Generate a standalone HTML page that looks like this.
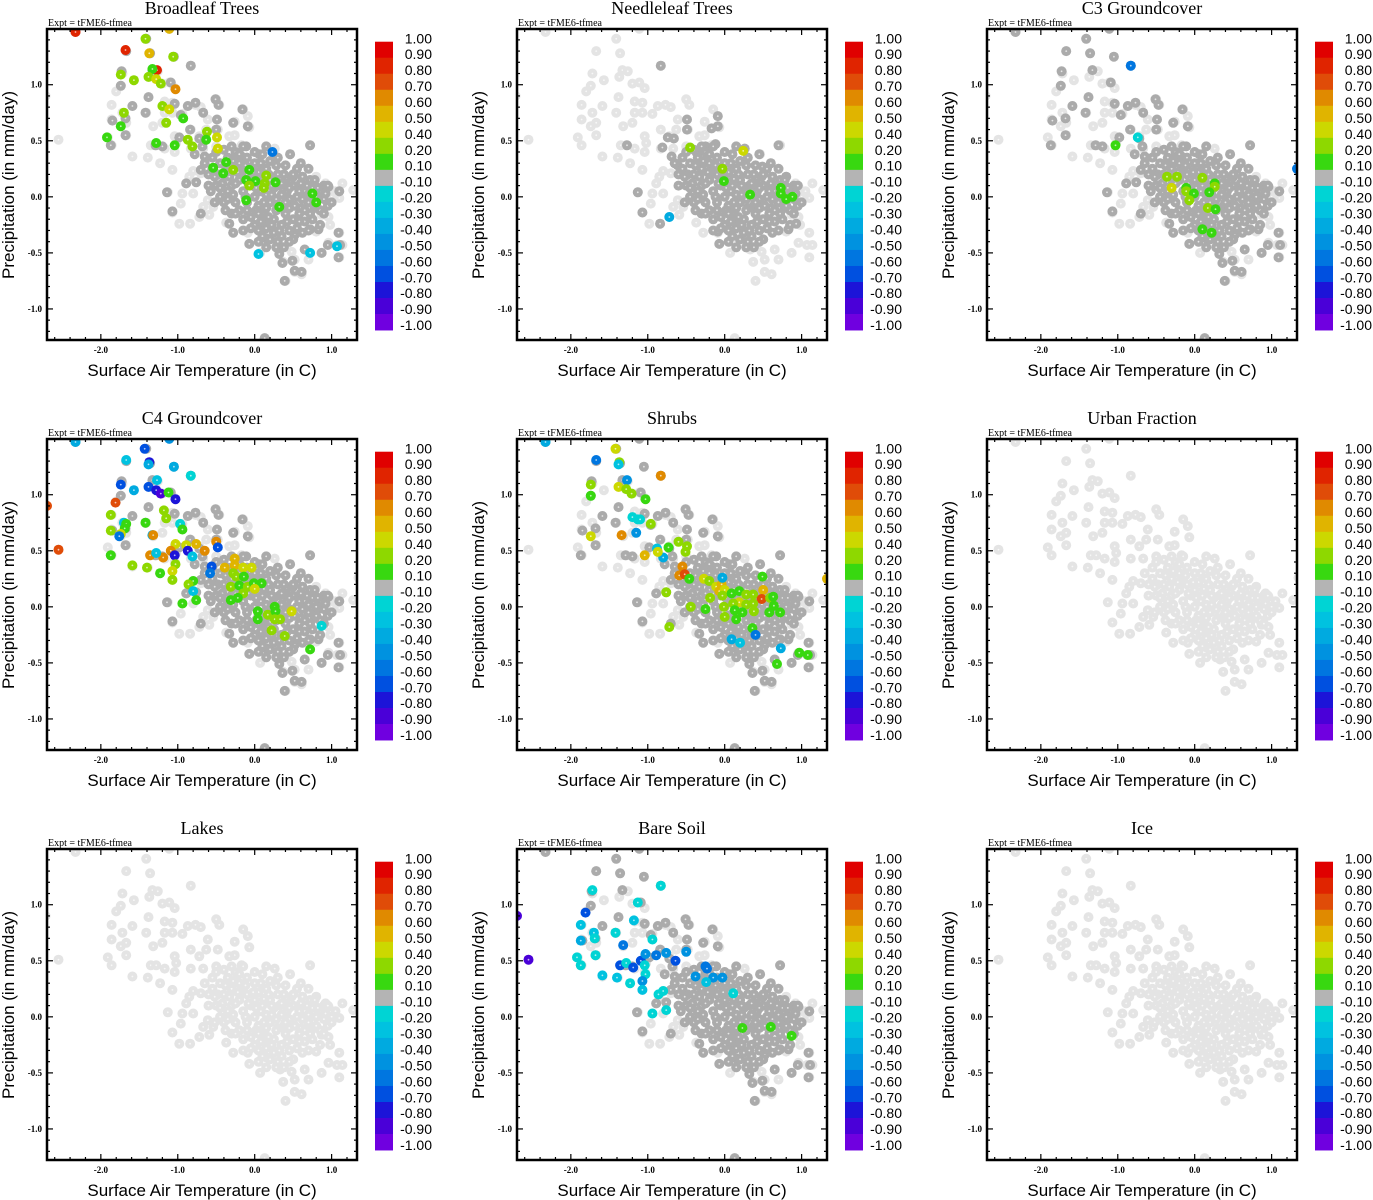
<!DOCTYPE html>
<html><head><meta charset="utf-8">
<style>
html,body{margin:0;padding:0;background:#fff;}
#root{width:1373px;height:1200px;position:relative;overflow:hidden;}
svg text{font-family:"Liberation Sans",sans-serif;}
</style></head>
<body>
<div id="root">
<svg id="fig" width="1373" height="1200" viewBox="0 0 1373 1200" xmlns="http://www.w3.org/2000/svg"></svg>
</div>
<script>
// ---- data (x = surface air temperature anomaly C, y = precipitation mm/day) ----
const panelTitles = ["Broadleaf Trees","Needleleaf Trees","C3 Groundcover","C4 Groundcover","Shrubs","Urban Fraction","Lakes","Bare Soil","Ice"];
const xTickLabels = ["-2.0","-1.0","0.0","1.0"];
const xTickValues = [-2,-1,0,1];
const yTickLabels = ["1.0","0.5","0.0","-0.5","-1.0"];
const yTickValues = [1,0.5,0,-0.5,-1];
const cbarLabels = ["1.00","0.90","0.80","0.70","0.60","0.50","0.40","0.20","0.10","-0.10","-0.20","-0.30","-0.40","-0.50","-0.60","-0.70","-0.80","-0.90","-1.00"];
const cbarBounds = [1,0.9,0.8,0.7,0.6,0.5,0.4,0.2,0.1,-0.1,-0.2,-0.3,-0.4,-0.5,-0.6,-0.7,-0.8,-0.9,-1];
const cbarColors = ["#e00000","#e02400","#e04c08","#e08a00","#e0b400","#ccd800","#8ed800","#38d810","#b4b4b4","#00d4d4","#00c2e0","#00aae0","#0092e0","#0076e0","#0050e0","#1c14d8","#4a00d8","#7000e0"];

const lightOuter = [-2.55,0.51,-2.72,0.90,-2.33,1.47,-1.11,1.50,-1.41,1.41,-1.67,1.30,-1.36,1.28,-1.72,1.10,-1.57,1.04,-0.83,1.17,-1.80,0.94,-1.74,0.99,-1.33,1.13,-1.26,1.12,-1.37,1.07,-1.20,1.01,-1.11,1.02,-1.04,0.97,-1.17,0.85,-1.07,0.84,-1.86,0.82,-1.59,0.81,-1.38,0.89,-1.86,0.69,-1.72,0.75,-1.67,0.66,-1.74,0.63,-1.41,0.75,-1.32,0.63,-1.20,0.66,-1.17,0.75,-1.07,0.75,-0.94,0.74,-0.87,0.81,-0.77,0.82,-0.70,0.80,-0.50,0.87,-0.46,0.82,-0.15,0.78,-0.09,0.72,-1.91,0.53,-1.86,0.46,-1.67,0.55,-1.59,0.36,-1.39,0.35,-1.35,0.46,-1.28,0.46,-1.17,0.43,-1.04,0.54,-1.02,0.48,-1.04,0.40,-1.23,0.30,-1.07,0.24,-0.83,0.60,-0.72,0.54,-0.63,0.60,-0.48,0.60,-0.61,0.69,-0.26,0.67,-0.07,0.62,-0.26,0.55,-0.83,0.43,-0.67,0.43,-0.50,0.45,-0.33,0.54,-0.17,0.46,0.26,0.43,0.46,0.38,0.72,0.46,0.80,0.18,0.96,0.09,1.14,0.12,1.28,0.06,1.35,0.26,-1.13,0.04,-0.94,0.03,-0.96,-0.06,-0.80,0.03,-0.85,0.18,-0.89,0.12,-0.80,0.23,-0.70,0.21,-1.07,-0.14,-0.98,-0.24,-0.84,-0.24,-0.72,-0.18,-0.67,-0.09,-0.37,-0.23,-0.28,-0.32,-0.07,-0.42,0.07,-0.50,-0.09,-0.32,0.15,-0.36,0.33,-0.47,0.37,-0.58,0.48,-0.49,0.52,-0.56,0.65,-0.47,0.70,-0.56,0.87,-0.50,0.96,-0.41,1.10,-0.32,0.98,-0.25,1.07,-0.43,1.14,-0.43,1.10,-0.54,0.40,-0.75,0.52,-0.67,0.61,-0.69,0.80,-0.31,0.87,-0.16,0.76,-0.09,0.96,-0.18,1.10,-0.01,-0.61,-0.03,-0.54,-0.09,-0.59,-0.16,0.13,-1.26,1.05,0.05,1.0,0.0,0.92,0.12];
const coreCloud = [-0.45,0.30,-0.4,0.2,-0.35,0.35,-0.3,0.25,-0.3,0.1,-0.25,0.4,-0.2,0.3,-0.2,0.15,-0.15,0.05,-0.1,0.35,-0.1,0.2,-0.05,0.1,0.0,0.3,0.0,0.15,0.0,0.0,0.05,0.22,0.05,-0.08,0.1,0.1,0.1,-0.15,0.15,0.25,0.15,0.02,0.2,-0.05,0.2,0.15,0.25,-0.2,0.25,0.08,0.3,0.2,0.3,-0.1,0.35,0.02,0.35,-0.25,0.4,0.12,0.4,-0.15,0.45,-0.02,0.5,0.1,0.5,-0.2,0.55,0.0,0.6,-0.1,0.6,0.12,0.65,0.05,0.7,-0.05,0.75,0.08,0.8,0.0,0.85,0.05,0.9,-0.02,-0.5,0.1,-0.45,0.0,-0.4,-0.05,-0.35,0.05,-0.25,-0.05,-0.2,-0.12,-0.15,-0.2,-0.1,-0.05,-0.05,-0.18,0.0,-0.25,0.05,-0.3,0.1,-0.35,0.15,-0.28,0.2,-0.38,0.25,-0.32,0.3,-0.4,0.35,-0.35,0.45,-0.3,0.5,-0.38,0.55,-0.28,0.65,-0.22,0.7,-0.3,0.75,-0.2,0.85,-0.12,-0.3,-0.15,-0.55,0.25,-0.5,0.4,-0.6,0.2,-0.65,0.3,-0.15,0.45,0.1,0.38,0.2,0.32,0.4,0.28,0.55,0.25,-0.42,0.12,-0.18,0.22,0.08,0.05,0.28,-0.02,0.42,0.05,0.62,-0.02,0.12,-0.22,0.32,0.1,-0.08,0.12,0.48,0.18,0.72,0.15,0.9,0.1,0.95,-0.08,-0.52,-0.05,0.02,-0.12,0.18,-0.18,0.38,-0.08,0.58,-0.15,0.78,-0.1,0.68,0.1,-0.28,0.02,0.22,0.02,0.45,-0.1,0.12,-0.05];
const coreCloud2 = [-0.48,0.2,-0.38,0.28,-0.33,0.18,-0.28,0.32,-0.22,0.22,-0.12,0.28,-0.02,0.22,0.08,0.3,0.18,0.2,0.28,0.28,0.38,0.2,0.5,0.2,0.62,0.18,0.78,0.15,-0.45,0.08,-0.35,-0.02,-0.25,0.12,-0.12,0.0,0.02,0.08,0.12,0.16,0.22,0.1,0.35,0.12,0.45,0.08,0.58,0.05,0.7,0.02,0.82,0.08,0.92,0.03,-0.38,-0.12,-0.25,-0.15,-0.1,-0.12,0.05,-0.15,0.15,-0.1,0.28,-0.12,0.4,-0.05,0.52,-0.08,0.65,-0.12,0.8,-0.08,0.9,-0.15,-0.15,-0.3,-0.05,-0.28,0.08,-0.22,0.22,-0.25,0.32,-0.3,0.42,-0.22,0.58,-0.22,0.72,-0.15,0.62,-0.32,0.45,-0.4,0.28,-0.45,0.15,-0.45,0.05,-0.4,0.38,-0.45,-0.55,0.35,-0.6,0.1,-0.52,0.18,-0.2,0.38,0.0,0.4,0.3,0.35,0.6,0.3,0.7,0.25,0.95,0.1,1.0,-0.05,0.85,-0.25,-0.3,0.45,-0.4,0.42,0.15,0.45];
const darkOuter = [-0.83,1.17,-1.09,1.02,-1.04,0.83,-1.38,0.89,-1.74,0.99,-1.73,1.12,-1.59,0.81,-1.68,0.70,-1.85,0.68,-1.42,0.75,-1.68,0.55,-1.87,0.46,-1.29,0.46,-1.20,0.45,-0.96,0.73,-0.87,0.81,-0.77,0.84,-0.67,0.75,-0.51,0.87,-0.47,0.82,-0.16,0.78,-0.09,0.63,-0.28,0.66,-0.49,0.69,-0.84,0.60,-0.98,0.53,-0.72,0.52,-0.50,0.60,-0.68,0.45,-0.78,0.38,-0.65,0.36,-0.70,0.24,-0.89,0.12,-0.76,0.13,-1.14,0.04,-1.07,-0.13,-0.70,-0.15,-0.57,0.05,-0.33,-0.24,-0.28,-0.32,-0.07,-0.42,0.11,-0.29,0.15,-0.37,0.32,-0.51,0.36,-0.59,0.39,-0.75,0.49,-0.57,0.52,-0.34,0.65,-0.47,0.72,-0.29,0.83,-0.29,0.87,-0.50,0.95,-0.43,1.09,-0.32,1.09,-0.54,1.11,-0.43,0.61,-0.67,0.52,-0.66,0.13,-1.26,0.75,0.09,0.80,-0.04,0.50,0.18,-0.17,0.36,0.06,0.38,0.07,0.30,-0.09,0.24,-0.28,0.33,-0.11,0.45,-2.33,1.47,-1.41,1.41,-1.67,1.30,-1.36,1.28,-1.33,1.13,-1.11,1.50,-1.05,1.25,0.72,0.46,0.46,0.38,0.96,0.09,1.1,0.05];
const needleOuter = [-1.27,0.46,-1.13,0.04,-1.07,-0.14,-0.84,-0.24,-0.81,0.44,-0.74,0.53,-0.66,0.52,-0.49,0.69,-0.49,0.60,-0.69,0.36,-0.61,0.28,-0.25,0.45,-0.12,0.47,-0.17,0.61,-0.09,0.72,-0.09,0.63,-0.36,0.39,0.70,0.46,0.45,0.38,0.49,0.27,0.80,0.18,0.93,-0.24,0.83,-0.29,-0.07,-0.42,-0.09,-0.31,0.2,-0.38,0.26,0.43,-0.83,1.17];

// colored points: x, y, correlation
const broadleafVals = [-2.33,1.47,0.85,-1.11,1.50,0.55,-1.68,1.31,0.85,-1.37,1.28,0.55,-1.42,1.41,0.3,-1.06,1.25,0.3,-1.27,1.13,0.85,-1.33,1.14,0.15,-1.74,1.09,0.3,-1.57,1.04,0.3,-1.38,1.07,0.3,-1.28,1.05,0.45,-1.22,1.01,0.3,-1.03,0.96,0.6,-1.20,0.81,0.3,-1.11,0.78,0.45,-1.70,0.75,0.3,-1.74,0.63,0.15,-1.92,0.53,0.15,-1.28,0.48,0.15,-1.15,0.66,0.3,-1.04,0.46,0.15,-0.93,0.70,0.15,-0.87,0.51,0.3,-0.81,0.45,0.3,-0.62,0.58,0.3,-0.63,0.51,0.15,-0.49,0.53,0.45,-0.48,0.43,0.45,-0.54,0.26,0.15,-0.37,0.31,0.15,-0.41,0.21,0.15,-0.28,0.24,0.3,-0.07,0.24,0.15,-0.11,0.15,0.15,0.01,0.14,0.15,-0.07,0.10,0.3,0.15,0.19,0.3,0.13,0.12,0.3,0.12,0.08,0.3,0.27,0.13,0.15,-0.11,-0.03,0.15,0.32,-0.09,0.15,0.75,0.03,0.15,0.80,-0.05,0.15,0.23,0.40,-0.6,0.05,-0.51,-0.25,0.72,-0.50,-0.25,1.07,-0.44,-0.25];
const needleleafVals = [-0.45,0.44,0.3,0.24,0.41,0.45,-0.03,0.25,0.3,-0.01,0.14,0.15,0.33,0.02,0.15,0.73,0.08,0.15,0.73,0.03,0.15,0.80,-0.02,0.15,0.88,0.00,0.15,-0.72,-0.18,-0.4];
const c3Vals = [-0.83,1.17,-0.55,-0.74,0.53,-0.2,-1.03,0.46,0.15,1.33,0.25,-0.55,-0.36,0.18,0.3,-0.23,0.18,0.3,-0.30,0.08,0.45,-0.11,0.08,0.15,-0.11,0.05,0.3,-0.01,0.03,0.15,-0.07,-0.03,0.3,0.10,0.17,0.3,0.26,0.12,0.15,0.26,0.09,0.3,0.19,0.04,0.15,0.17,-0.10,0.3,0.27,-0.11,0.15,0.10,-0.29,0.15,0.22,-0.32,0.15];
const c4Vals = [-2.33,1.47,-0.4,-1.11,1.50,-0.5,-1.43,1.41,-0.7,-1.67,1.31,-0.3,-1.37,1.29,-0.8,-1.38,1.27,-0.4,-1.27,1.13,-0.3,-1.05,1.25,-0.4,-0.83,1.17,-0.2,-1.74,1.09,-0.7,-1.57,1.04,-0.4,-1.38,1.07,-0.7,-1.28,1.04,-0.8,-1.22,1.01,-0.85,-1.12,1.02,0.15,-1.03,0.96,-0.8,-1.81,0.93,0.7,-2.70,0.90,0.75,-2.55,0.51,0.75,-1.87,0.82,0.3,-1.18,0.86,0.3,-1.15,0.79,0.3,-0.97,0.74,-0.2,-1.70,0.75,-0.3,-1.67,0.74,0.15,-1.69,0.70,0.15,-1.42,0.75,0.15,-0.94,0.69,0.15,-1.87,0.68,0.3,-1.74,0.65,0.4,-1.76,0.63,-0.6,-1.33,0.64,-0.4,-1.32,0.64,0.65,-1.03,0.56,0.45,-0.89,0.55,0.45,-0.76,0.56,0.5,-1.09,0.50,0.65,-0.87,0.50,-0.8,-0.65,0.50,0.65,-0.50,0.58,0.65,-0.48,0.53,-0.7,-1.87,0.46,0.15,-1.36,0.46,0.65,-1.19,0.44,0.65,-1.28,0.48,-0.3,-1.04,0.46,-0.8,-0.81,0.45,-0.3,-1.59,0.37,0.3,-1.40,0.35,0.3,-1.23,0.30,0.15,-1.03,0.38,0.3,-1.07,0.32,0.4,-1.07,0.24,0.3,-0.56,0.36,-0.7,-0.58,0.30,-0.6,-0.39,0.35,0.5,-0.26,0.43,0.55,-0.26,0.37,0.5,-0.15,0.35,0.45,-0.04,0.35,0.4,-0.28,0.30,0.3,-0.24,0.27,0.3,-0.14,0.27,0.15,-0.80,0.23,0.15,-0.86,0.20,0.3,-0.80,0.14,-0.3,-0.76,0.06,0.15,-0.94,0.03,0.15,-0.31,0.18,0.3,-0.20,0.19,0.15,-0.09,0.18,0.3,-0.01,0.21,0.15,0.09,0.21,0.15,0.00,0.16,0.4,-0.15,0.12,0.3,-0.22,0.08,0.15,-0.31,0.06,0.15,0.04,-0.04,0.15,0.04,-0.11,0.15,0.17,-0.07,0.3,0.26,0.00,0.15,0.27,-0.04,0.15,0.26,-0.11,0.3,0.33,-0.11,0.3,0.48,-0.04,0.45,0.22,-0.21,0.3,0.39,-0.26,0.3,0.87,-0.17,-0.2,0.72,-0.38,0.15];
const shrubsVals = [-2.33,1.47,-0.4,-1.42,1.41,0.45,-1.67,1.31,-0.55,-1.37,1.29,0.3,-1.38,1.27,-0.3,-1.27,1.13,-0.5,-0.83,1.17,0.65,-1.74,1.09,0.3,-1.38,1.07,0.45,-1.28,1.05,0.3,-1.21,1.01,0.3,-1.03,0.96,0.15,-1.74,0.99,0.15,-1.20,0.80,-0.2,-1.13,0.78,-0.2,-1.10,0.78,-0.2,-0.96,0.74,0.3,-1.74,0.63,0.45,-1.34,0.64,0.6,-1.15,0.66,-0.5,-0.88,0.52,-0.3,-0.73,0.53,0.15,-0.60,0.58,0.3,-0.49,0.54,0.3,-0.51,0.49,0.3,-0.80,0.44,-0.4,-1.04,0.46,0.5,-0.87,0.49,0.45,-0.55,0.36,0.65,-0.59,0.28,0.6,-0.52,0.29,0.7,-0.46,0.25,0.15,-0.76,0.13,0.3,-0.72,-0.18,0.3,-0.44,0.00,0.3,-0.25,-0.02,0.15,-0.27,0.25,0.45,-0.20,0.23,0.3,-0.11,0.18,0.45,-0.04,0.20,0.5,-0.07,0.14,0.5,0.00,0.15,0.45,-0.03,0.10,0.3,-0.19,0.08,0.3,0.09,0.12,0.15,0.19,0.14,0.15,0.28,0.11,0.3,0.37,0.11,0.3,0.49,0.27,0.15,0.50,0.15,0.5,0.48,0.07,0.75,0.59,0.08,0.3,0.63,0.09,0.15,0.19,0.04,0.45,0.11,0.03,0.3,-0.01,0.00,0.3,0.13,-0.03,0.15,0.28,0.02,0.3,0.37,0.03,0.3,0.38,-0.04,0.3,0.23,-0.05,0.15,0.15,-0.11,0.15,0.00,-0.09,0.3,0.64,0.01,0.15,0.58,-0.05,0.15,0.72,-0.05,0.15,0.36,-0.19,0.15,0.09,-0.29,-0.4,0.20,-0.32,-0.3,0.40,-0.25,-0.6,0.73,-0.37,-0.4,0.97,-0.41,0.15,1.08,-0.43,0.15,0.68,-0.51,0.15,1.33,0.25,0.55,-0.03,0.26,-0.4];
const bareSoilVals = [-2.70,0.90,-0.85,-2.55,0.51,-0.85,-1.72,1.13,-0.2,-0.83,1.17,-0.2,-1.81,0.93,-0.7,-1.87,0.82,-0.3,-1.18,0.86,-0.3,-1.13,1.02,-0.2,-1.70,0.75,-0.3,-1.69,0.70,-0.2,-1.87,0.68,-0.4,-1.42,0.75,-0.2,-0.94,0.69,-0.2,-1.68,0.55,-0.2,-1.92,0.53,-0.2,-1.87,0.46,-0.2,-1.32,0.64,-0.6,-1.36,0.46,-0.7,-1.28,0.48,-0.2,-1.19,0.44,-0.7,-1.09,0.50,-0.7,-1.03,0.56,-0.5,-1.04,0.46,-0.2,-0.89,0.55,-0.6,-0.76,0.57,-0.5,-0.64,0.50,-0.7,-0.50,0.58,-0.5,-1.59,0.37,-0.3,-1.40,0.35,-0.3,-1.23,0.30,-0.2,-1.03,0.38,-0.2,-1.07,0.32,-0.5,-1.07,0.24,-0.3,-0.86,0.20,-0.2,-0.80,0.23,-0.2,-0.76,0.06,-0.2,-0.94,0.03,-0.2,-0.38,0.36,-0.5,-0.25,0.45,-0.6,-0.23,0.43,-0.6,-0.15,0.35,-0.5,-0.03,0.35,-0.5,-0.24,0.31,-0.3,0.11,0.21,-0.2,0.23,-0.10,0.15,0.60,-0.09,0.15,0.87,-0.17,0.15];

const panelColored = [broadleafVals, needleleafVals, c3Vals, c4Vals, shrubsVals, [], [], bareSoilVals, []];
const panelDarkSet = ["full","needle","full","full","full","none","none","full","none"];
const panelNames = ["broadleaf","needleleaf","c3","c4","shrubs","urban","lakes","bare-soil","ice"];

// ---- geometry ----
const NS = "http://www.w3.org/2000/svg";
const svg = document.getElementById("fig");
const PL = 47, PT = 29, PW = 310, PH = 311;
const XMIN = -2.70, XMAX = 1.33, YMIN = -1.277, YMAX = 1.497;
function sx(x){ return PL + (x - XMIN) / (XMAX - XMIN) * PW; }
function sy(y){ return PT + (YMAX - y) / (YMAX - YMIN) * PH; }
function colorFor(v){
  for (let i = 0; i < 18; i++) { if (v <= cbarBounds[i] && v >= cbarBounds[i+1]) return cbarColors[i]; }
  return cbarColors[8];
}
function mk(tag, attrs, parent){
  const e = document.createElementNS(NS, tag);
  for (const k in attrs) e.setAttribute(k, attrs[k]);
  parent.appendChild(e);
  return e;
}
function dot(g, x, y, fill){
  mk("circle", {cx: sx(x).toFixed(1), cy: sy(y).toFixed(1), r: 5, fill: fill}, g);
  mk("circle", {cx: sx(x).toFixed(1), cy: sy(y).toFixed(1), r: 0.9, fill: "#ffffff", "fill-opacity": 0.7}, g);
}

const defs = mk("defs", {}, svg);
const cp = mk("clipPath", {id: "plotclip"}, defs);
mk("rect", {x: PL, y: PT, width: PW, height: PH}, cp);

for (let p = 0; p < 9; p++) {
  const col = p % 3, row = Math.floor(p / 3);
  const g = mk("g", {transform: "translate(" + (col * 470) + "," + (row * 410) + ")"}, svg);
  
  

  const title = mk("text", {x: 202, y: 14, "text-anchor": "middle", "font-size": 18, style: "font-family:'Liberation Serif',serif"}, g);
  title.textContent = panelTitles[p];
  
  

  const expt = mk("text", {x: 48, y: 26, "font-size": 10, style: "font-family:'Liberation Serif',serif"}, g);
  expt.textContent = "Expt = tFME6-tfmea";
  
  

  // points
  const pts = mk("g", {"clip-path": "url(#plotclip)"}, g);
  
  
  const allLight = lightOuter.concat(coreCloud, coreCloud2);
  for (let i = 0; i < allLight.length; i += 2) dot(pts, allLight[i], allLight[i+1], "#e4e4e4");
  let dark = [];
  if (panelDarkSet[p] === "full") dark = darkOuter.concat(coreCloud, coreCloud2);
  if (panelDarkSet[p] === "needle") dark = needleOuter.concat(coreCloud, coreCloud2);
  for (let i = 0; i < dark.length; i += 2) dot(pts, dark[i], dark[i+1], "#ababab");
  const cv = panelColored[p];
  for (let i = 0; i < cv.length; i += 3) dot(pts, cv[i], cv[i+1], colorFor(cv[i+2]));

  // frame
  const frame = mk("rect", {x: PL, y: PT, width: PW, height: PH, fill: "none", stroke: "#000", "stroke-width": 2.5}, g);
  
  

  // ticks
  const tk = mk("g", {stroke: "#000", "stroke-width": 1.2}, g);
  
  
  for (let k = -13; k <= 6; k++) {
    const v = k * 0.2; const X = sx(v);
    if (X < PL + 1 || X > PL + PW - 1) continue;
    const major = Math.abs(v - Math.round(v)) < 1e-6;
    const L = major ? 6 : 3;
    mk("line", {x1: X, y1: PT + PH, x2: X, y2: PT + PH - L}, tk);
    mk("line", {x1: X, y1: PT, x2: X, y2: PT + L}, tk);
  }
  for (let k = -12; k <= 14; k++) {
    const v = k * 0.1; const Y = sy(v);
    if (Y < PT + 1 || Y > PT + PH - 1) continue;
    const major = k % 5 === 0;
    const L = major ? 6 : 3;
    mk("line", {x1: PL, y1: Y, x2: PL + L, y2: Y}, tk);
    mk("line", {x1: PL + PW, y1: Y, x2: PL + PW - L, y2: Y}, tk);
  }
  for (let i = 0; i < xTickValues.length; i++) {
    const t = mk("text", {x: sx(xTickValues[i]), y: 353, "text-anchor": "middle", "font-size": 9, "font-weight": "bold", style: "font-family:'Liberation Serif',serif"}, g);
    t.textContent = xTickLabels[i];
    
    
  }
  for (let i = 0; i < yTickValues.length; i++) {
    const t = mk("text", {x: 42, y: sy(yTickValues[i]) + 3, "text-anchor": "end", "font-size": 9, "font-weight": "bold", style: "font-family:'Liberation Serif',serif"}, g);
    t.textContent = yTickLabels[i];
    
    
  }
  const xt = mk("text", {x: 202, y: 376, "text-anchor": "middle", "font-size": 17}, g);
  xt.textContent = "Surface Air Temperature (in C)";
  
  
  const yt = mk("text", {x: 0, y: 0, "text-anchor": "middle", "font-size": 17, transform: "translate(14,185) rotate(-90)"}, g);
  yt.textContent = "Precipitation (in mm/day)";
  
  

  // colorbar
  const cb = mk("g", {}, g);
  
  
  const cbTop = 41.7, cbH = 16.02;
  for (let i = 0; i < 18; i++) {
    mk("rect", {x: 375, y: cbTop + i * cbH, width: 18, height: cbH + 0.4, fill: cbarColors[i]}, cb);
  }
  for (let i = 0; i < cbarLabels.length; i++) {
    const t = mk("text", {x: 432, y: 38.3 + i * 15.93 + 5, "text-anchor": "end", "font-size": 14}, cb);
    t.textContent = cbarLabels[i];
    
    
  }
}
</script>
</body></html>
